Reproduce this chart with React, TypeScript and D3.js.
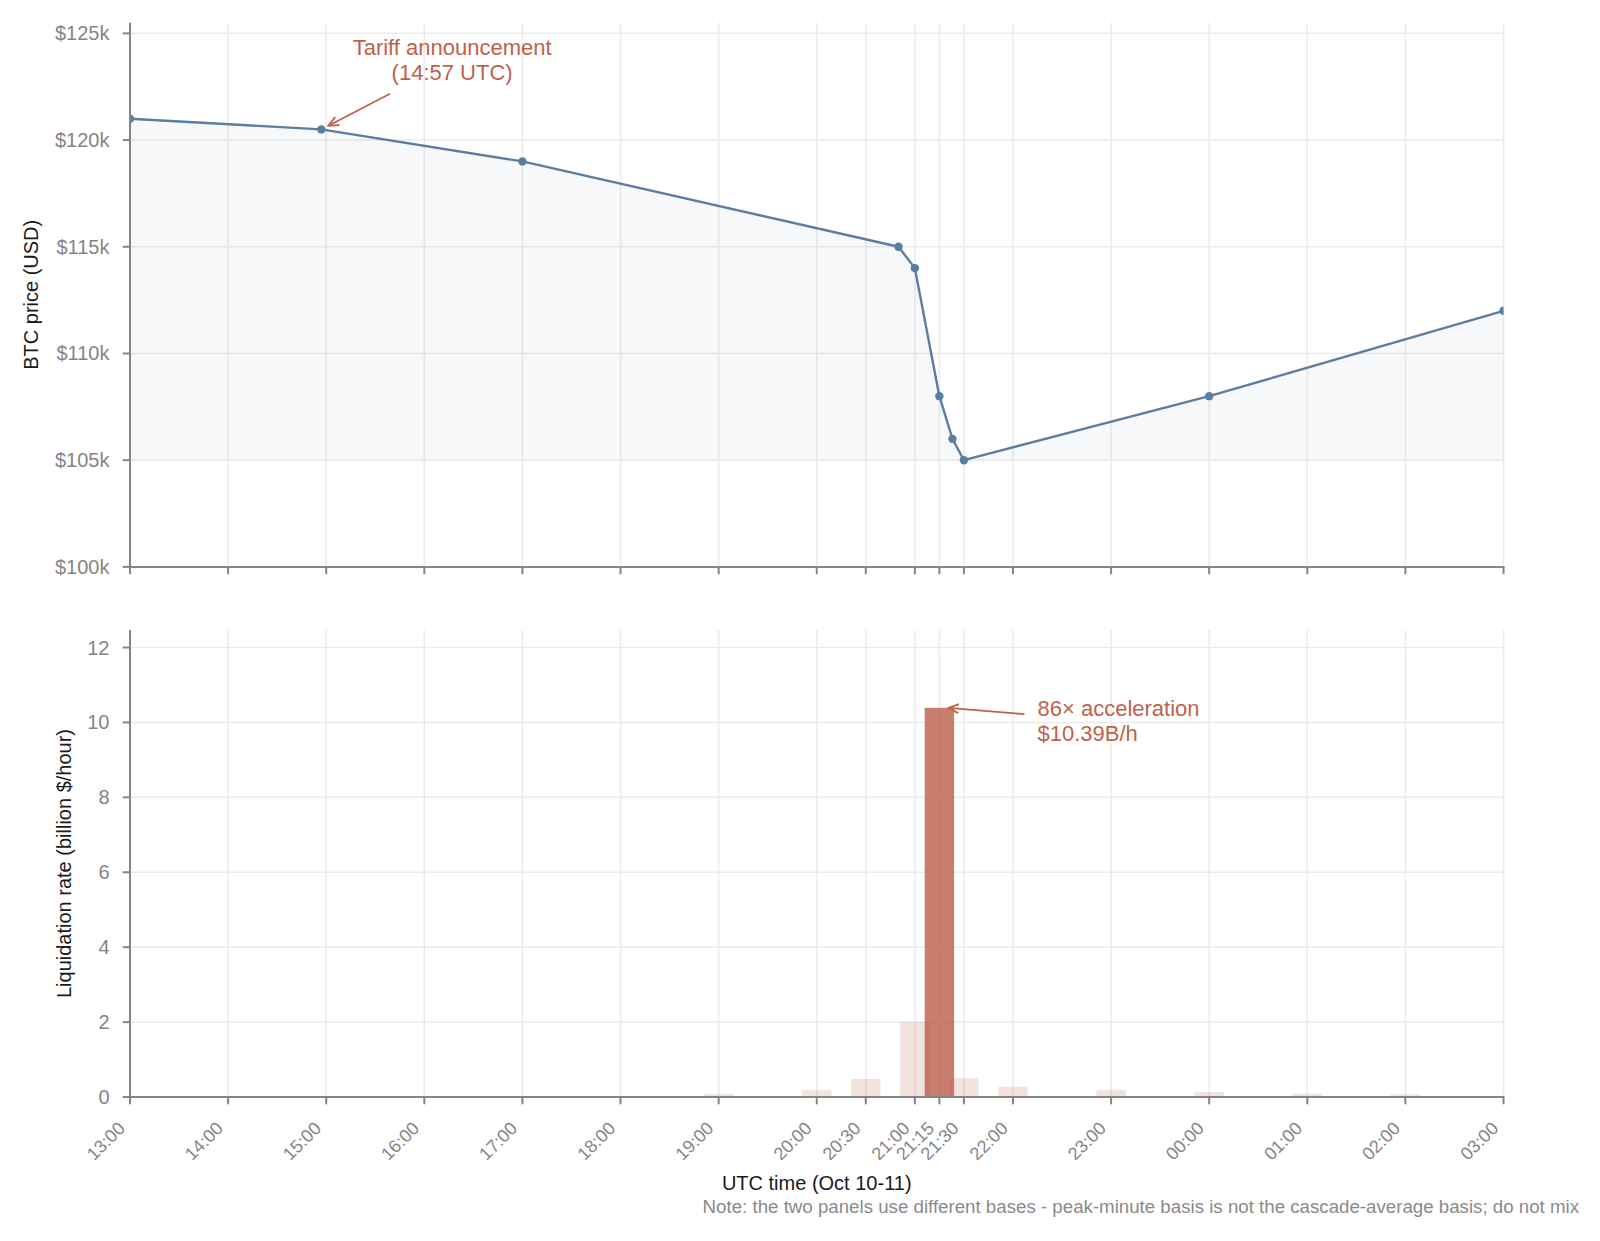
import React, { useEffect, useRef } from 'react';
import * as d3 from 'd3';

// BTC price path (UTC, Oct 10-11)
const priceTimes = [
  '2025-10-10T13:00:00Z', '2025-10-10T14:57:00Z', '2025-10-10T17:00:00Z',
  '2025-10-10T20:50:00Z', '2025-10-10T21:00:00Z', '2025-10-10T21:15:00Z',
  '2025-10-10T21:23:00Z', '2025-10-10T21:30:00Z', '2025-10-11T00:00:00Z',
  '2025-10-11T03:00:00Z',
];
const priceValues = [121000, 120500, 119000, 115000, 114000, 108000, 106000, 105000, 108000, 112000];

// liquidation rate, billion $/hour
const barTimes = [
  '2025-10-10T17:00:00Z', '2025-10-10T18:00:00Z', '2025-10-10T19:00:00Z',
  '2025-10-10T20:00:00Z', '2025-10-10T20:30:00Z', '2025-10-10T21:00:00Z',
  '2025-10-10T21:15:00Z', '2025-10-10T21:30:00Z', '2025-10-10T22:00:00Z',
  '2025-10-10T23:00:00Z', '2025-10-11T00:00:00Z', '2025-10-11T01:00:00Z',
  '2025-10-11T02:00:00Z', '2025-10-11T03:00:00Z',
];
const barValues = [0.03, 0.03, 0.08, 0.18, 0.48, 2.0, 10.39, 0.5, 0.27, 0.19, 0.13, 0.09, 0.07, 0.03];

const tickTimes = [
  '2025-10-10T13:00:00Z', '2025-10-10T14:00:00Z', '2025-10-10T15:00:00Z',
  '2025-10-10T16:00:00Z', '2025-10-10T17:00:00Z', '2025-10-10T18:00:00Z',
  '2025-10-10T19:00:00Z', '2025-10-10T20:00:00Z', '2025-10-10T20:30:00Z',
  '2025-10-10T21:00:00Z', '2025-10-10T21:15:00Z', '2025-10-10T21:30:00Z',
  '2025-10-10T22:00:00Z', '2025-10-10T23:00:00Z', '2025-10-11T00:00:00Z',
  '2025-10-11T01:00:00Z', '2025-10-11T02:00:00Z', '2025-10-11T03:00:00Z',
];
const priceTicks = [100000, 105000, 110000, 115000, 120000, 125000];
const rateTicks = [0, 2, 4, 6, 8, 10, 12];

const FONT = '"Liberation Sans", Arial, Helvetica, sans-serif';
const LINE = '#5a7ea2';
const RED = '#b5523e';
const ANNO = '#c1614a';
const GRID = '#ebebeb';
const AXIS = '#858585';
const TICKTXT = '#858585';

const W = 1600;
const H = 1241;

const App: React.FC = () => {
  const svgRef = useRef<SVGSVGElement>(null);

  useEffect(() => {
    if (!svgRef.current) return;
    const svg = d3.select(svgRef.current);
    svg.selectAll('*').remove();

    const parse = (s: string) => new Date(s);
    const x = d3.scaleUtc()
      .domain([parse(tickTimes[0]), parse(tickTimes[tickTimes.length - 1])])
      .range([130, 1503.5]);
    const yTop = d3.scaleLinear().domain([100000, 125500]).range([566.9, 22.7]);
    const yBot = d3.scaleLinear().domain([0, 10.39 * 1.2]).range([1097, 630]);
    const [x0, x1] = x.range();
    const fmt = d3.utcFormat('%H:%M');

    const defs = svg.append('defs');
    defs.append('clipPath').attr('id', 'clipTop').append('rect')
      .attr('x', x0).attr('y', yTop.range()[1])
      .attr('width', x1 - x0).attr('height', yTop.range()[0] - yTop.range()[1]);
    defs.append('clipPath').attr('id', 'clipBot').append('rect')
      .attr('x', x0).attr('y', yBot.range()[1])
      .attr('width', x1 - x0).attr('height', yBot.range()[0] - yBot.range()[1]);
    defs.append('marker')
      .attr('id', 'arrowHead')
      .attr('viewBox', '-12 -7 14 14')
      .attr('refX', 0).attr('refY', 0)
      .attr('markerUnits', 'userSpaceOnUse')
      .attr('markerWidth', 14).attr('markerHeight', 14)
      .attr('orient', 'auto')
      .append('path')
      .attr('d', 'M-10,-4.5 L0,0 L-10,4.5')
      .attr('fill', 'none')
      .attr('stroke', ANNO)
      .attr('stroke-width', 1.8);

    const drawPanel = (
      y: d3.ScaleLinear<number, number>,
      ticks: number[],
      tickFmt: (v: number) => string,
      showXLabels: boolean,
    ) => {
      const [yb, yt] = y.range();
      const g = svg.append('g');
      // grid
      g.selectAll('.hgrid').data(ticks).enter().append('line')
        .attr('x1', x0).attr('x2', x1)
        .attr('y1', d => y(d)).attr('y2', d => y(d))
        .attr('stroke', GRID).attr('stroke-width', 1.5);
      g.selectAll('.vgrid').data(tickTimes).enter().append('line')
        .attr('x1', d => x(parse(d))).attr('x2', d => x(parse(d)))
        .attr('y1', yt).attr('y2', yb)
        .attr('stroke', GRID).attr('stroke-width', 1.5);
      return { g, yb, yt, ticks, tickFmt, showXLabels, y };
    };

    const drawAxes = (p: ReturnType<typeof drawPanel>) => {
      const { yb, yt, ticks, tickFmt, showXLabels, y } = p;
      const a = svg.append('g');
      a.append('line').attr('x1', x0).attr('x2', x0).attr('y1', yt).attr('y2', yb)
        .attr('stroke', AXIS).attr('stroke-width', 2);
      a.append('line').attr('x1', x0 - 1).attr('x2', x1 + 1).attr('y1', yb).attr('y2', yb)
        .attr('stroke', AXIS).attr('stroke-width', 2);
      a.selectAll('.yt').data(ticks).enter().append('line')
        .attr('x1', x0 - 7.3).attr('x2', x0)
        .attr('y1', d => y(d)).attr('y2', d => y(d))
        .attr('stroke', AXIS).attr('stroke-width', 2);
      a.selectAll('.ytl').data(ticks).enter().append('text')
        .attr('x', x0 - 20.5).attr('y', d => y(d)).attr('dy', '0.35em')
        .attr('text-anchor', 'end')
        .attr('font-family', FONT).attr('font-size', 20).attr('fill', TICKTXT)
        .text(d => tickFmt(d));
      a.selectAll('.xt').data(tickTimes).enter().append('line')
        .attr('x1', d => x(parse(d))).attr('x2', d => x(parse(d)))
        .attr('y1', yb).attr('y2', yb + 7.3)
        .attr('stroke', AXIS).attr('stroke-width', 2);
      if (showXLabels) {
        a.selectAll('.xtl').data(tickTimes).enter().append('text')
          .attr('transform', d => `translate(${x(parse(d)) - 4},${yb + 32.5}) rotate(-45)`)
          .attr('text-anchor', 'end')
          .attr('font-family', FONT).attr('font-size', 18).attr('fill', TICKTXT)
          .text(d => fmt(parse(d)));
      }
    };

    // ---- top panel: BTC price
    const top = drawPanel(yTop, priceTicks, v => `$${v / 1000}k`, false);
    const pts = priceTimes.map((t, i) => ({ t: parse(t), v: priceValues[i] }));
    const plotTop = top.g.append('g').attr('clip-path', 'url(#clipTop)');
    const area = d3.area<{ t: Date; v: number }>()
      .x(d => x(d.t))
      .y0(yTop(d3.min(priceValues) || 0))
      .y1(d => yTop(d.v));
    plotTop.append('path').datum(pts).attr('d', area)
      .attr('fill', LINE).attr('fill-opacity', 0.05);
    const line = d3.line<{ t: Date; v: number }>().x(d => x(d.t)).y(d => yTop(d.v));
    plotTop.append('path').datum(pts).attr('d', line)
      .attr('fill', 'none').attr('stroke', LINE).attr('stroke-width', 2.4)
      .attr('stroke-linejoin', 'round');
    plotTop.selectAll('circle').data(pts).enter().append('circle')
      .attr('cx', d => x(d.t)).attr('cy', d => yTop(d.v)).attr('r', 4.2)
      .attr('fill', LINE);
    drawAxes(top);

    // tariff annotation
    const tariffPt = pts[1];
    const tariffTail = { t: parse('2025-10-10T15:39:00Z'), v: 122170 };
    const tx = x(tariffPt.t), ty = yTop(tariffPt.v);
    const sx = x(tariffTail.t), sy = yTop(tariffTail.v);
    const len = Math.hypot(sx - tx, sy - ty);
    const shrink = 8;
    svg.append('line')
      .attr('x1', sx).attr('y1', sy)
      .attr('x2', tx + (sx - tx) / len * shrink).attr('y2', ty + (sy - ty) / len * shrink)
      .attr('stroke', ANNO).attr('stroke-width', 1.8)
      .attr('marker-end', 'url(#arrowHead)');
    const tariffX = x(parse('2025-10-10T16:17:00Z'));
    const tariffText = svg.append('text')
      .attr('x', tariffX)
      .attr('y', yTop(124000))
      .attr('text-anchor', 'middle')
      .attr('font-family', FONT).attr('font-size', 22).attr('fill', ANNO);
    tariffText.append('tspan').attr('x', tariffX).text('Tariff announcement');
    tariffText.append('tspan').attr('x', tariffX).attr('dy', 25).text('(14:57 UTC)');

    // ---- bottom panel: liquidation rate
    const bot = drawPanel(yBot, rateTicks, v => `${v}`, true);
    const bars = barTimes.map((t, i) => ({ t: parse(t), v: barValues[i] }));
    const peak = d3.max(barValues) || 0;
    const halfW = 9 * 60 * 1000;
    const plotBot = bot.g.append('g').attr('clip-path', 'url(#clipBot)');
    plotBot.selectAll('rect').data(bars).enter().append('rect')
      .attr('x', d => x(new Date(d.t.getTime() - halfW)))
      .attr('width', d => x(new Date(d.t.getTime() + halfW)) - x(new Date(d.t.getTime() - halfW)))
      .attr('y', d => yBot(d.v))
      .attr('height', d => yBot(0) - yBot(d.v))
      .attr('fill', RED)
      .attr('fill-opacity', d => (d.v === peak ? 0.75 : 0.17));
    drawAxes(bot);

    // peak annotation
    const px = x(parse('2025-10-10T21:20:00Z')), py = yBot(peak);
    const qx = x(parse('2025-10-10T22:07:00Z')), qy = yBot(10.22);
    svg.append('line')
      .attr('x1', qx).attr('y1', qy).attr('x2', px + 1).attr('y2', py)
      .attr('stroke', ANNO).attr('stroke-width', 1.8)
      .attr('marker-end', 'url(#arrowHead)');
    const peakX = x(parse('2025-10-10T22:15:00Z'));
    const peakText = svg.append('text')
      .attr('x', peakX)
      .attr('y', yBot(10.17))
      .attr('font-family', FONT).attr('font-size', 22).attr('fill', ANNO);
    peakText.append('tspan').attr('x', peakX).text('86× acceleration');
    peakText.append('tspan').attr('x', peakX).attr('dy', 25).text('$10.39B/h');

    // axis labels
    svg.append('text')
      .attr('transform', `translate(30.6,${(yTop.range()[0] + yTop.range()[1]) / 2}) rotate(-90)`)
      .attr('dy', '0.35em').attr('text-anchor', 'middle')
      .attr('font-family', FONT).attr('font-size', 20).attr('fill', '#1a1a1a')
      .text('BTC price (USD)');
    svg.append('text')
      .attr('transform', `translate(64,${(yBot.range()[0] + yBot.range()[1]) / 2}) rotate(-90)`)
      .attr('dy', '0.35em').attr('text-anchor', 'middle')
      .attr('font-family', FONT).attr('font-size', 20).attr('fill', '#1a1a1a')
      .text('Liquidation rate (billion $/hour)');
    svg.append('text')
      .attr('x', (x0 + x1) / 2).attr('y', 1190)
      .attr('text-anchor', 'middle')
      .attr('font-family', FONT).attr('font-size', 20).attr('fill', '#1a1a1a')
      .text('UTC time (Oct 10-11)');
    svg.append('text')
      .attr('x', 1579).attr('y', 1213)
      .attr('text-anchor', 'end')
      .attr('font-family', FONT).attr('font-size', 18.7).attr('fill', '#8a8a8a')
      .text('Note: the two panels use different bases - peak-minute basis is not the cascade-average basis; do not mix');
  }, []);

  return (
    <div style={{ position: 'absolute', left: 0, top: 0 }}>
      <svg ref={svgRef} width={W} height={H} style={{ display: 'block', background: '#fff' }} />
    </div>
  );
};

export default App;
